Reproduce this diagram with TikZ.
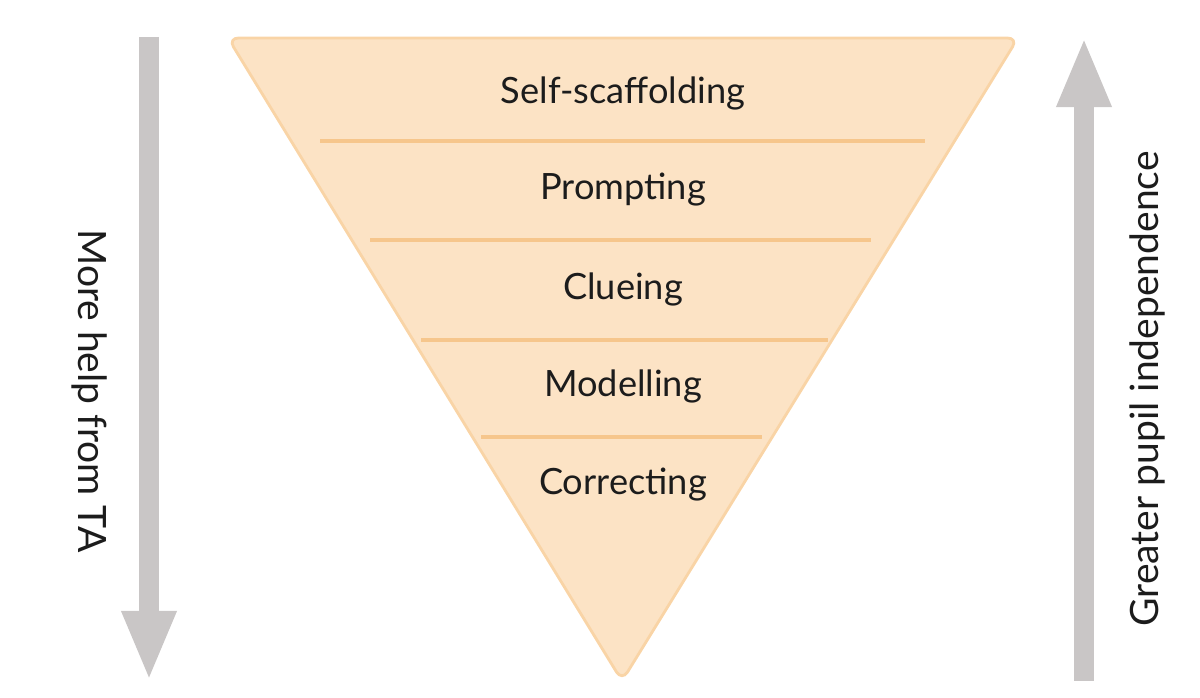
\documentclass[tikz,border=0pt]{standalone}
\usepackage{fontspec}
\setmainfont{Lato}
\usetikzlibrary{arrows.meta, positioning}

\definecolor{peach}{HTML}{FCE3C5}
\definecolor{peachedge}{HTML}{F9D4A6}
\definecolor{peachline}{HTML}{F6C68C}
\definecolor{arrowgrey}{HTML}{C9C6C6}
\definecolor{ink}{HTML}{1C1C1C}

\tikzset{
  level/.style={font=\fontsize{10.3}{12}\selectfont, text=ink},
  side/.style={font=\fontsize{11.1}{13}\selectfont, text=ink},
  divider/.style={draw=peachline, line width=0.9pt},
  bigarrow/.style={draw=arrowgrey, line width=0.2cm,
    -{Triangle[width=0.5cm, length=0.7cm]}},
}

\begin{document}
\begin{tikzpicture}[x=0.01cm, y=-0.01cm, >=Stealth]
  \useasboundingbox (0,0) rectangle (1200,698);
  % --- Funnel ---
  \filldraw[fill=peach, draw=peachedge, line width=0.8pt, rounded corners=3pt]
    (228,38) -- (1018,38) -- (622,681) -- cycle;
  % Dividers between levels
  \coordinate (d1l) at (320,141); \coordinate (d1r) at (925,141);
  \coordinate (d2l) at (370,240); \coordinate (d2r) at (871,240);
  \coordinate (d3l) at (421,340); \coordinate (d3r) at (828,340);
  \coordinate (d4l) at (481,437); \coordinate (d4r) at (762,437);
  \draw[divider] (d1l) -- (d1r);
  \draw[divider] (d2l) -- (d2r);
  \draw[divider] (d3l) -- (d3r);
  \draw[divider] (d4l) -- (d4r);
  % Levels
  \node[level] (selfsc)  at (623,93)  {Self-scaffolding};
  \node[level] (prompt)  at (623,190) {Prompting};
  \node[level] (clue)    at (623,289) {Clueing};
  \node[level] (model)   at (623,386) {Modelling};
  \node[level] (correct) at (623,485) {Correcting};
  % --- Side arrows ---
  \coordinate (helptop) at (149,37);
  \coordinate (helpbot) at (149,681);
  \draw[bigarrow] (helptop) -- (helpbot);
  \node[side, rotate=-90] (help) at (90,391) {More help from TA};
  \coordinate (indbot) at (1084,681);
  \coordinate (indtop) at (1084,37);
  \draw[bigarrow] (indbot) -- (indtop);
  \node[side, rotate=90] (indep) at (1147,389) {Greater pupil independence};
\end{tikzpicture}
\end{document}
